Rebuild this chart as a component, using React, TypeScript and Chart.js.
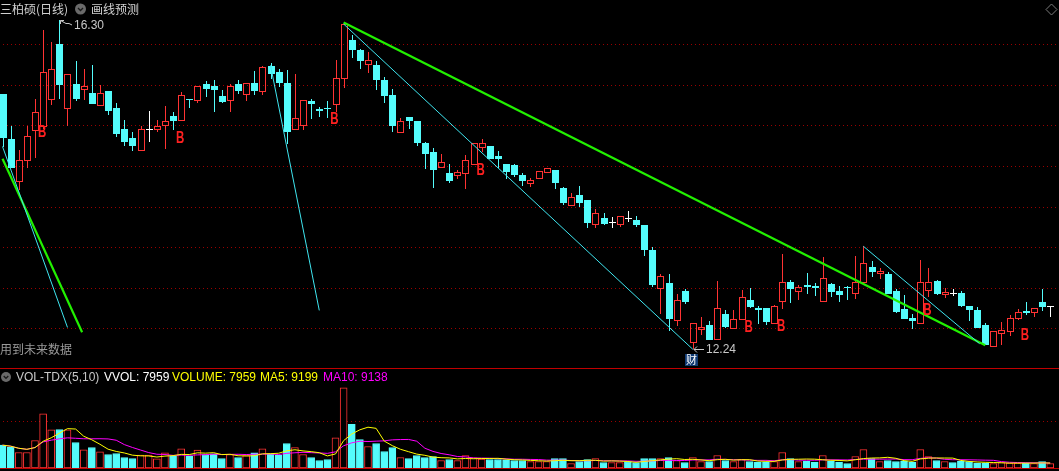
import React, { useEffect, useRef } from "react";
import { Chart, registerables } from "chart.js";

Chart.register(...registerables);

// ---------- data (daily K-line, 130 sessions) ----------
const OPEN = [
  15.39, 14.83, 14.31, 14.57, 14.94, 14.99, 15.33, 16.0, 15.21, 15.51,
  15.45, 15.4, 15.25, 15.42, 15.22, 14.95, 14.85, 14.7, 14.96, 14.95,
  15.0, 15.12, 15.07, 15.33, 15.31, 15.51, 15.49, 15.36, 15.31, 15.51,
  15.39, 15.52, 15.42, 15.73, 15.66, 15.52, 14.96, 15.01, 15.3, 15.2,
  15.22, 15.26, 15.58, 16.05, 15.93, 15.76, 15.75, 15.56, 15.38, 14.92,
  15.1, 15.06, 14.78, 14.67, 14.49, 14.41, 14.39, 14.41, 14.52, 14.73,
  14.75, 14.62, 14.53, 14.51, 14.39, 14.29, 14.35, 14.43, 14.45, 14.23,
  14.02, 14.14, 14.08, 13.79, 13.86, 13.81, 13.79, 13.86, 13.84, 13.77,
  13.47, 13.0, 13.06, 12.6, 12.96, 12.33, 12.49, 12.54, 12.37, 12.68,
  12.5, 12.61, 12.85, 12.75, 12.75, 12.57, 12.84, 13.07, 12.96, 13.03,
  13.02, 12.84, 13.05, 12.96, 13.01, 12.93, 13.07, 13.26, 13.18, 13.17,
  12.96, 12.74, 12.63, 12.57, 12.97, 13.08, 12.92, 12.94, 12.94, 12.78,
  12.73, 12.54, 12.28, 12.44, 12.47, 12.63, 12.71, 12.7, 12.82, 12.77,
];
const HIGH = [
  15.39, 14.99, 14.7, 14.99, 15.32, 16.18, 16.03, 16.3, 15.64, 15.79,
  15.7, 15.75, 15.5, 15.42, 15.28, 15.07, 14.92, 14.99, 15.18, 15.07,
  15.24, 15.16, 15.41, 15.33, 15.49, 15.55, 15.56, 15.44, 15.51, 15.56,
  15.52, 15.67, 15.73, 15.77, 15.7, 15.68, 15.63, 15.31, 15.33, 15.23,
  15.3, 15.81, 16.27, 16.12, 15.94, 15.91, 15.79, 15.6, 15.45, 15.09,
  15.1, 15.06, 14.8, 14.72, 14.65, 14.53, 14.45, 14.64, 14.78, 14.83,
  14.75, 14.69, 14.53, 14.53, 14.41, 14.35, 14.44, 14.48, 14.45, 14.24,
  14.17, 14.25, 14.08, 13.97, 13.92, 13.87, 13.88, 13.95, 13.88, 13.77,
  13.5, 13.17, 13.17, 12.92, 12.98, 12.57, 12.64, 12.59, 13.08, 12.73,
  12.73, 12.97, 13.0, 12.78, 12.75, 12.79, 13.42, 13.1, 13.03, 13.18,
  13.06, 13.38, 13.06, 13.02, 13.02, 13.39, 13.51, 13.33, 13.24, 13.19,
  12.98, 12.91, 12.68, 13.34, 13.24, 13.1, 13.0, 12.98, 12.96, 12.78,
  12.76, 12.57, 12.47, 12.58, 12.66, 12.74, 12.82, 12.75, 12.98, 12.77,
];
const LOW = [
  14.74, 14.48, 14.2, 14.48, 14.6, 14.96, 15.25, 15.32, 14.99, 15.3,
  15.31, 15.27, 15.25, 15.13, 14.86, 14.75, 14.69, 14.7, 14.8, 14.92,
  14.71, 14.94, 15.07, 15.22, 15.28, 15.35, 15.17, 15.28, 15.17, 15.39,
  15.3, 15.38, 15.38, 15.57, 15.47, 14.77, 14.94, 14.94, 15.08, 15.1,
  15.09, 15.17, 15.46, 15.83, 15.7, 15.65, 15.44, 15.28, 14.92, 14.92,
  14.96, 14.75, 14.46, 14.23, 14.49, 14.29, 14.34, 14.22, 14.52, 14.67,
  14.59, 14.47, 14.34, 14.36, 14.25, 14.24, 14.35, 14.41, 14.22, 14.02,
  14.02, 14.0, 13.74, 13.74, 13.77, 13.74, 13.75, 13.81, 13.75, 13.39,
  13.01, 12.68, 12.47, 12.53, 12.8, 12.24, 12.42, 12.36, 12.37, 12.5,
  12.5, 12.61, 12.75, 12.55, 12.54, 12.57, 12.74, 12.81, 12.85, 12.92,
  12.9, 12.83, 12.89, 12.82, 12.85, 12.86, 13.05, 13.13, 13.11, 12.92,
  12.69, 12.62, 12.49, 12.57, 12.89, 12.91, 12.87, 12.9, 12.76, 12.59,
  12.5, 12.29, 12.28, 12.29, 12.41, 12.6, 12.66, 12.64, 12.71, 12.64,
];
const CLOSE = [
  14.85, 14.48, 14.57, 14.87, 15.17, 15.66, 15.69, 15.5, 15.64, 15.33,
  15.49, 15.27, 15.4, 15.18, 14.9, 14.8, 14.75, 14.95, 14.96, 14.99,
  15.06, 15.06, 15.38, 15.31, 15.49, 15.45, 15.44, 15.29, 15.49, 15.42,
  15.52, 15.42, 15.72, 15.63, 15.52, 14.92, 15.09, 15.31, 15.26, 15.18,
  15.2, 15.59, 16.25, 15.93, 15.79, 15.81, 15.56, 15.36, 14.99, 15.06,
  15.06, 14.78, 14.65, 14.45, 14.55, 14.32, 14.43, 14.58, 14.78, 14.78,
  14.59, 14.59, 14.43, 14.39, 14.32, 14.33, 14.44, 14.48, 14.29, 14.04,
  14.12, 14.04, 13.8, 13.92, 13.79, 13.81, 13.88, 13.86, 13.77, 13.47,
  13.03, 13.15, 12.62, 12.85, 12.82, 12.57, 12.52, 12.36, 12.75, 12.52,
  12.62, 12.89, 12.76, 12.73, 12.58, 12.78, 13.07, 12.98, 13.01, 13.01,
  13.0, 13.12, 12.95, 12.91, 13.0, 13.07, 13.31, 13.19, 13.21, 12.92,
  12.7, 12.62, 12.59, 13.07, 13.07, 12.92, 12.95, 12.94, 12.78, 12.73,
  12.5, 12.29, 12.47, 12.48, 12.63, 12.7, 12.69, 12.75, 12.76, 12.77,
];
const VOLUME = [
  42200, 38500, 28700, 28700, 50900, 100300, 70700, 71200, 70700, 47200,
  33600, 37900, 29900, 25000, 26800, 19400, 17600, 23700, 23700, 17000,
  28100, 21900, 35500, 21900, 33000, 25000, 26200, 17600, 25000, 19400,
  23100, 28100, 35500, 26200, 23700, 45300, 37900, 25000, 19400, 13900,
  15700, 55800, 148300, 80500, 52700, 39800, 45300, 30500, 37900, 19400,
  17600, 23100, 19400, 21300, 13900, 15700, 13900, 23100, 18800, 16300,
  15700, 15700, 15100, 13900, 13900, 12000, 12000, 12000, 17600, 17600,
  8300, 12000, 15700, 17600, 10200, 10200, 10200, 12000, 10200, 17600,
  17600, 17600, 19400, 13900, 10200, 19400, 12000, 12000, 23100, 13900,
  12000, 15700, 12000, 10800, 10800, 12000, 28700, 17600, 12000, 12600,
  10800, 23100, 12600, 10800, 8300, 21300, 34200, 17600, 12000, 13900,
  12000, 12600, 10800, 34200, 21300, 13900, 12000, 10200, 12600, 12000,
  8900, 8900, 8300, 10200, 8900, 8900, 8900, 8300, 12000, 7959,
];

const PRICE_GRID = [12.5, 13.0, 13.5, 14.0, 14.5, 15.0, 15.5, 16.0];
const VOLUME_GRID = [86600];

// "B" signal marks: candle index and price level
const B_INDEX = [5, 22, 41, 59, 92, 96, 114, 126];
const B_PRICE = [14.93, 14.85, 15.09, 14.45, 12.52, 12.53, 12.73, 12.42];

// drawn trend lines: [startIndex, startPrice, endIndex, endPrice]
const GREEN_LINES = [
  [42, 16.27, 121, 12.29],
  [0, 14.59, 9.8, 12.45],
];
const CYAN_LINES = [
  [42, 16.25, 85, 12.24],
  [0, 14.74, 8, 12.51],
  [33, 15.74, 39, 12.72],
  [106, 13.51, 120.3, 12.31],
];

const HIGH_INDEX = 7;
const HIGH_LABEL = "16.30";
const LOW_INDEX = 85;
const LOW_LABEL = "12.24";

const TITLE = "三柏硕(日线)";
const MENU = "画线预测";
const NOTE = "用到未来数据";
const CAI = "财";
const VOL_NAME = "VOL-TDX(5,10)";
const VOL_VVOL = "VVOL: 7959";
const VOL_VOLUME = "VOLUME: 7959";
const VOL_MA5 = "MA5: 9199";
const VOL_MA10 = "MA10: 9138";

// ---------- styles ----------
const W = 1059;
const TOP_H = 369;
const VOL_H = 102;
const X_MIN = -0.31;
const X_MAX = 130.08;
const Y_MIN = 11.998;
const Y_MAX = 16.546;
const V_MAX = 183000;

const RED = "#ff3333";
const CYAN = "#54fcfc";
const WHITE = "#ffffff";
const GRID = "#9a0000";
const SEP = "#c00000";
const GREEN = "#22f000";
const LINE_CYAN = "#3fe6f0";
const TEXT = "#c8c8c8";
const LATIN = '"Liberation Sans", Arial, sans-serif';
const CJK = '"Noto Sans CJK SC", sans-serif';

function movingAverage(n: number) {
  return VOLUME.map((_, i) => {
    const s = VOLUME.slice(Math.max(0, i - n + 1), i + 1);
    return s.reduce((a, b) => a + b, 0) / s.length;
  });
}

function dottedGrid(ctx: CanvasRenderingContext2D, y: number, width: number) {
  ctx.fillStyle = GRID;
  const gy = Math.round(y);
  for (let gx = 3; gx < width; gx += 4) ctx.fillRect(gx, gy, 1, 1);
}

const klinePlugin = {
  id: "kline",
  beforeDatasetsDraw(chart: any) {
    const { ctx, width, height } = chart;
    const xs = chart.scales.x;
    const ys = chart.scales.y;
    ctx.save();
    PRICE_GRID.forEach((p) => dottedGrid(ctx, ys.getPixelForValue(p), width));
    ctx.fillStyle = SEP;
    ctx.fillRect(0, height - 1, width, 1);

    for (let i = 0; i < OPEN.length; i++) {
      const o = OPEN[i], c = CLOSE[i], h = HIGH[i], l = LOW[i];
      const cx = Math.round(xs.getPixelForValue(i));
      const yh = Math.round(ys.getPixelForValue(h));
      const yl = Math.round(ys.getPixelForValue(l));
      const yo = Math.round(ys.getPixelForValue(o));
      const yc = Math.round(ys.getPixelForValue(c));
      if (c > o) {
        const top = yc, bot = yo;
        ctx.fillStyle = RED;
        if (top > yh) ctx.fillRect(cx, yh, 1, top - yh);
        if (yl > bot) ctx.fillRect(cx, bot, 1, yl - bot);
        ctx.strokeStyle = RED;
        ctx.lineWidth = 1;
        ctx.strokeRect(cx - 3 + 0.5, top + 0.5, 6, Math.max(bot - top, 1));
      } else if (c < o) {
        const top = yo, bot = yc;
        ctx.fillStyle = CYAN;
        ctx.fillRect(cx, yh, 1, Math.max(yl - yh, 1));
        ctx.fillRect(cx - 3, top, 7, Math.max(bot - top, 1));
      } else {
        ctx.fillStyle = WHITE;
        ctx.fillRect(cx, yh, 1, Math.max(yl - yh, 1));
        ctx.fillRect(cx - 3, yo, 7, 1);
      }
    }
    ctx.restore();
  },
  afterDatasetsDraw(chart: any) {
    const { ctx, width } = chart;
    const xs = chart.scales.x;
    const ys = chart.scales.y;
    ctx.save();
    ctx.textBaseline = "middle";

    // B marks
    ctx.fillStyle = "#ff2020";
    ctx.font = `bold 16px ${LATIN}`;
    ctx.textAlign = "center";
    B_INDEX.forEach((idx, k) => {
      const px = xs.getPixelForValue(idx) - 1;
      const py = ys.getPixelForValue(B_PRICE[k]);
      ctx.save();
      ctx.translate(px, py + 1);
      ctx.scale(0.72, 1);
      ctx.fillText("B", 0, 0);
      ctx.restore();
    });

    // high label
    ctx.textAlign = "left";
    const hx = Math.round(xs.getPixelForValue(HIGH_INDEX)) + 1;
    const hy = Math.round(ys.getPixelForValue(HIGH[HIGH_INDEX]));
    ctx.strokeStyle = TEXT;
    ctx.lineWidth = 1;
    ctx.beginPath();
    ctx.moveTo(hx + 0.5, hy + 4);
    ctx.lineTo(hx + 0.5, hy + 0.5);
    ctx.lineTo(hx + 4, hy + 0.5);
    ctx.moveTo(hx + 0.5, hy + 0.5);
    ctx.lineTo(hx + 6, hy + 3.5);
    ctx.lineTo(hx + 9, hy + 3.5);
    ctx.lineTo(hx + 12, hy + 5);
    ctx.stroke();
    ctx.fillStyle = TEXT;
    ctx.font = `12px ${LATIN}`;
    ctx.fillText(HIGH_LABEL, hx + 14, hy + 5.5);

    // low label
    const lx = Math.round(xs.getPixelForValue(LOW_INDEX));
    const ly = Math.round(ys.getPixelForValue(LOW[LOW_INDEX]));
    ctx.beginPath();
    ctx.moveTo(lx + 1, ly + 0.5);
    ctx.lineTo(lx + 11, ly + 0.5);
    ctx.moveTo(lx + 4, ly - 2.5);
    ctx.lineTo(lx + 1, ly + 0.5);
    ctx.lineTo(lx + 4, ly + 3.5);
    ctx.stroke();
    ctx.fillText(LOW_LABEL, lx + 13, ly + 1);

    // 财 badge
    ctx.fillStyle = "#103a72";
    ctx.fillRect(lx - 8, ly + 5, 13, 12);
    ctx.fillStyle = WHITE;
    ctx.font = `11px ${CJK}`;
    ctx.textAlign = "center";
    ctx.fillText(CAI, lx - 1.5, ly + 11);

    // title row
    ctx.textAlign = "left";
    ctx.fillStyle = "#d0d0d0";
    ctx.font = `12px ${CJK}`;
    ctx.fillText(TITLE, 0, 9);
    ctx.fillStyle = "#6a6a6a";
    ctx.beginPath();
    ctx.arc(80.5, 9, 5.5, 0, Math.PI * 2);
    ctx.fill();
    ctx.strokeStyle = "#1a1a1a";
    ctx.lineWidth = 1.3;
    ctx.beginPath();
    ctx.moveTo(78, 8);
    ctx.lineTo(80.5, 10.5);
    ctx.lineTo(83, 8);
    ctx.stroke();
    ctx.fillStyle = "#d0d0d0";
    ctx.fillText(MENU, 91, 9);

    // note bottom-left
    ctx.fillStyle = "#9a9a9a";
    ctx.fillText(NOTE, 0, 349);

    // diamond top-right
    ctx.strokeStyle = "#7a7a7a";
    ctx.lineWidth = 1;
    ctx.beginPath();
    ctx.moveTo(width - 7.5, 4);
    ctx.lineTo(width - 2, 9.5);
    ctx.lineTo(width - 7.5, 15);
    ctx.lineTo(width - 13, 9.5);
    ctx.closePath();
    ctx.stroke();
    ctx.restore();
  },
};

const volumePlugin = {
  id: "volumeDecor",
  beforeDatasetsDraw(chart: any) {
    const { ctx, width, chartArea } = chart;
    const ys = chart.scales.y;
    ctx.save();
    VOLUME_GRID.forEach((v) => dottedGrid(ctx, ys.getPixelForValue(v), width));
    ctx.restore();
  },
  afterDatasetsDraw(chart: any) {
    const { ctx, width, chartArea } = chart;
    ctx.save();
    ctx.fillStyle = SEP;
    ctx.fillRect(0, Math.round(chartArea.bottom), width, 1);
    // header
    ctx.fillStyle = "#6a6a6a";
    ctx.beginPath();
    ctx.arc(6, 8, 5, 0, Math.PI * 2);
    ctx.fill();
    ctx.strokeStyle = "#1a1a1a";
    ctx.lineWidth = 1.3;
    ctx.beginPath();
    ctx.moveTo(3.7, 7);
    ctx.lineTo(6, 9.3);
    ctx.lineTo(8.3, 7);
    ctx.stroke();
    ctx.textBaseline = "middle";
    ctx.textAlign = "left";
    ctx.font = `12px ${LATIN}`;
    ctx.fillStyle = TEXT;
    ctx.fillText(VOL_NAME, 16, 8.5);
    ctx.fillStyle = WHITE;
    ctx.fillText(VOL_VVOL, 104, 8.5);
    ctx.fillStyle = "#ffff00";
    ctx.fillText(VOL_VOLUME, 172, 8.5);
    ctx.fillText(VOL_MA5, 260, 8.5);
    ctx.fillStyle = "#ff00ff";
    ctx.fillText(VOL_MA10, 323, 8.5);
    ctx.restore();
  },
};

function segment(l: number[], color: string, width: number) {
  return {
    data: [
      { x: l[0], y: l[1] },
      { x: l[2], y: l[3] },
    ],
    borderColor: color,
    borderWidth: width,
    pointRadius: 0,
    fill: false,
    tension: 0,
  };
}

export default function App() {
  const topRef = useRef<HTMLCanvasElement | null>(null);
  const volRef = useRef<HTMLCanvasElement | null>(null);

  useEffect(() => {
    if (!topRef.current || !volRef.current) return;

    const top = new Chart(topRef.current, {
      type: "line",
      data: {
        datasets: [
          ...CYAN_LINES.map((l) => segment(l, LINE_CYAN, 1)),
          ...GREEN_LINES.map((l) => segment(l, GREEN, 2.2)),
        ],
      },
      options: {
        animation: false,
        responsive: false,
        events: [],
        layout: { padding: 0 },
        plugins: { legend: { display: false }, tooltip: { enabled: false } },
        scales: {
          x: { type: "linear", min: X_MIN, max: X_MAX, display: false },
          y: { type: "linear", min: Y_MIN, max: Y_MAX, display: false },
        },
      },
      plugins: [klinePlugin],
    } as any);

    const isUp = VOLUME.map((_, i) =>
      CLOSE[i] > OPEN[i] ? true : CLOSE[i] < OPEN[i] ? false : i === 0 || CLOSE[i] >= CLOSE[i - 1]
    );
    const ma5 = movingAverage(5);
    const ma10 = movingAverage(10);

    const vol = new Chart(volRef.current, {
      type: "bar",
      data: {
        datasets: [
          {
            type: "line",
            data: ma10.map((v, i) => ({ x: i, y: v })),
            borderColor: "#ff00ff",
            borderWidth: 1,
            pointRadius: 0,
            tension: 0,
            order: 1,
          },
          {
            type: "line",
            data: ma5.map((v, i) => ({ x: i, y: v })),
            borderColor: "#ffff00",
            borderWidth: 1,
            pointRadius: 0,
            tension: 0,
            order: 0,
          },
          {
            type: "bar",
            data: VOLUME.map((v, i) => ({ x: i, y: v })),
            backgroundColor: isUp.map((u) => (u ? "#000000" : CYAN)),
            borderColor: isUp.map((u) => (u ? RED : CYAN)),
            borderWidth: 1,
            borderSkipped: false,
            barThickness: 7,
            grouped: false,
            order: 2,
          },
        ],
      },
      options: {
        animation: false,
        responsive: false,
        events: [],
        layout: { padding: { top: 0, left: 0, right: 0, bottom: 3 } },
        plugins: { legend: { display: false }, tooltip: { enabled: false } },
        scales: {
          x: { type: "linear", min: X_MIN, max: X_MAX, display: false, offset: false },
          y: { type: "linear", min: 0, max: V_MAX, display: false },
        },
      },
      plugins: [volumePlugin],
    } as any);

    return () => {
      top.destroy();
      vol.destroy();
    };
  }, []);

  return (
    <div
      style={{
        position: "fixed",
        left: 0,
        top: 0,
        width: W,
        height: TOP_H + VOL_H,
        background: "#000",
        overflow: "hidden",
      }}
    >
      <canvas
        ref={topRef}
        width={W}
        height={TOP_H}
        style={{ position: "absolute", left: 0, top: 0, width: W, height: TOP_H, display: "block" }}
      />
      <canvas
        ref={volRef}
        width={W}
        height={VOL_H}
        style={{ position: "absolute", left: 0, top: TOP_H, width: W, height: VOL_H, display: "block" }}
      />
    </div>
  );
}
